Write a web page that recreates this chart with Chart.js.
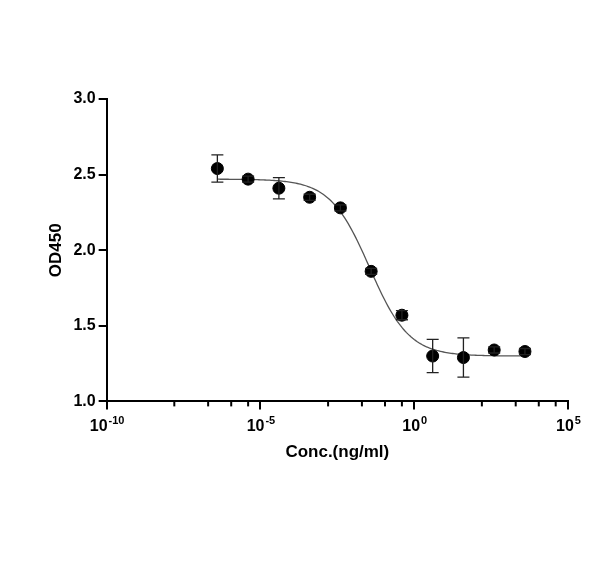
<!DOCTYPE html>
<html>
<head>
<meta charset="utf-8">
<script src="https://cdn.jsdelivr.net/npm/chart.js@4/dist/chart.umd.min.js"></script>
<style>
  html, body { margin: 0; padding: 0; background: #fff; }
  #wrap { width: 600px; height: 567px; }
</style>
</head>
<body>
<div id="wrap"><canvas id="myChart"></canvas></div>
<script>
// data
const logConc = [-6.4, -5.4, -4.4, -3.4, -2.4, -1.4, -0.4, 0.6, 1.6, 2.6, 3.6];
const od450 = [2.54, 2.47, 2.41, 2.35, 2.28, 1.86, 1.57, 1.30, 1.29, 1.34, 1.33];
const errSd = [0.09, 0.02, 0.07, 0.02, 0.02, 0.02, 0.03, 0.11, 0.13, 0.02, 0.02];
// 4PL fit: bottom, top, logEC50, hill slope
const fitParams = [1.30, 2.47, -1.45, 0.68];
const xTickDecades = [-10, -5, 0, 5];
const minorFractions = [0.44, 0.66, 0.81, 0.92];
const yTicks = [1.0, 1.5, 2.0, 2.5, 3.0];

const points = logConc.map((lx, i) => ({ x: Math.pow(10, lx), y: od450[i] }));

const curve = [];
for (let lx = logConc[0]; lx <= logConc[logConc.length - 1] + 0.001; lx += 0.05) {
    const [bot, top, ec, h] = fitParams;
    curve.push({ x: Math.pow(10, lx), y: bot + (top - bot) / (1 + Math.pow(10, (lx - ec) * h)) });
}

// error bars, minor ticks and 10^n labels drawn through the scales
const extras = {
    id: 'extras',
    afterDatasetsDraw(chart) {
        const c = chart.ctx, xs = chart.scales.x, ys = chart.scales.y;
        c.save();
        c.strokeStyle = '#222';
        c.lineWidth = 1.3;
        points.forEach((p, i) => {
            const px = xs.getPixelForValue(p.x);
            const y1 = ys.getPixelForValue(p.y + errSd[i]);
            const y2 = ys.getPixelForValue(p.y - errSd[i]);
            c.beginPath();
            c.moveTo(px, y1); c.lineTo(px, y2);
            c.moveTo(px - 6, y1); c.lineTo(px + 6, y1);
            c.moveTo(px - 6, y2); c.lineTo(px + 6, y2);
            c.stroke();
        });
        // minor ticks
        const base = chart.chartArea.bottom;
        c.strokeStyle = '#000';
        c.lineWidth = 2;
        for (let k = 0; k < xTickDecades.length - 1; k++) {
            const a = xTickDecades[k], b = xTickDecades[k + 1];
            minorFractions.forEach(f => {
                const px = xs.getPixelForValue(Math.pow(10, a + (b - a) * f));
                c.beginPath(); c.moveTo(px, base); c.lineTo(px, base + 5); c.stroke();
            });
        }
        // labels
        c.fillStyle = '#000';
        c.textBaseline = 'alphabetic';
        xTickDecades.forEach(e => {
            const px = xs.getPixelForValue(Math.pow(10, e));
            c.font = 'bold 16px "Liberation Sans"';
            const w1 = c.measureText('10').width;
            c.font = 'bold 11px "Liberation Sans"';
            const w2 = c.measureText(String(e)).width;
            const x0 = px - (w1 + w2) / 2;
            c.font = 'bold 16px "Liberation Sans"';
            c.fillText('10', x0, base + 30);
            c.font = 'bold 11px "Liberation Sans"';
            c.fillText(String(e), x0 + w1 + 1, base + 23);
        });
        c.restore();
    }
};

const font = { family: 'Liberation Sans', weight: 'bold', size: 16 };

const ctx = document.getElementById('myChart').getContext('2d');
const chart = new Chart(ctx, {
    type: 'scatter',
    data: {
        datasets: [
            {
                type: 'line',
                data: curve,
                borderColor: '#555',
                borderWidth: 1.3,
                pointRadius: 0,
                fill: false,
                order: 2
            },
            {
                data: points,
                backgroundColor: '#000',
                borderColor: '#000',
                pointRadius: 6,
                order: 1
            }
        ]
    },
    options: {
        responsive: true,
        maintainAspectRatio: false,
        animation: false,
        layout: { padding: { left: 42, right: 32, top: 99, bottom: 100 } },
        plugins: { legend: { display: false }, tooltip: { enabled: false } },
        scales: {
            x: {
                type: 'logarithmic',
                min: 1e-10,
                max: 1e5,
                afterBuildTicks(axis) {
                    axis.ticks = xTickDecades.map(e => ({ value: Math.pow(10, e) }));
                },
                ticks: { autoSkip: false, maxRotation: 0, color: '#000', font: font, padding: 4, callback: () => ' ' },
                grid: { drawOnChartArea: false, color: '#000', lineWidth: 2, tickLength: 8 },
                border: { color: '#000', width: 2 },
                title: { display: true, text: 'Conc.(ng/ml)', color: '#000', padding: { top: 6 }, font: { family: 'Liberation Sans', weight: 'bold', size: 17 } }
            },
            y: {
                min: 1.0,
                max: 3.0,
                afterBuildTicks(axis) { axis.ticks = yTicks.map(v => ({ value: v })); },
                ticks: { color: '#000', font: font, callback: v => v.toFixed(1) },
                grid: { drawOnChartArea: false, color: '#000', lineWidth: 2, tickLength: 8 },
                border: { color: '#000', width: 2 },
                title: { display: true, text: 'OD450', color: '#000', font: { family: 'Liberation Sans', weight: 'bold', size: 17 } }
            }
        }
    },
    plugins: [extras]
});
</script>
</body>
</html>
